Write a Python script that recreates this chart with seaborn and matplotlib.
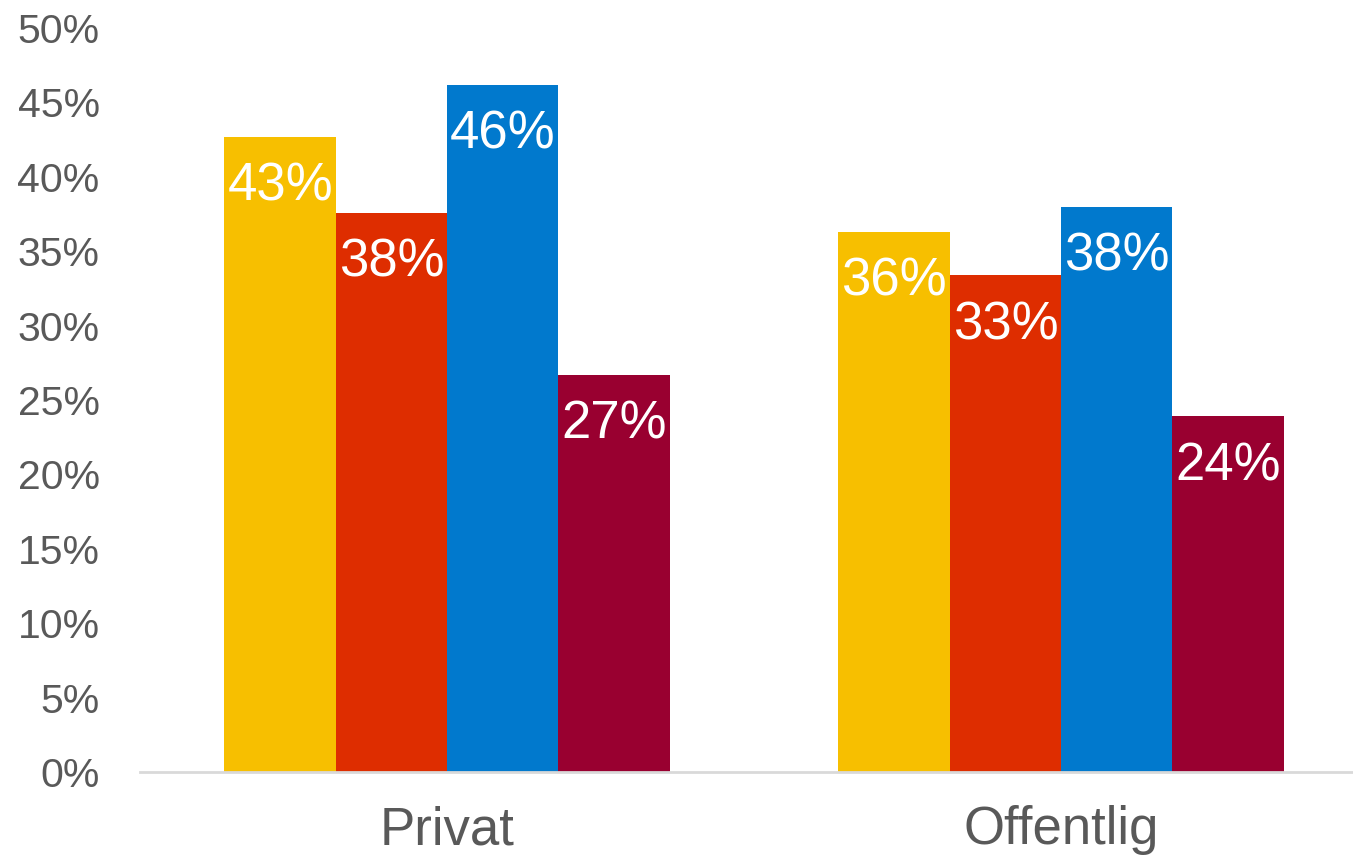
import pandas as pd
import numpy as np
import matplotlib.pyplot as plt
import seaborn as sns

# --- data (percent) ---
categories = ["Privat", "Offentlig"]
series = ["Serie 1", "Serie 2", "Serie 3", "Serie 4"]
serie1 = [42.7, 36.3]
serie2 = [37.6, 33.4]
serie3 = [46.2, 38.0]
serie4 = [26.7, 23.9]
colors = ["#F7BF00", "#DE2D00", "#0179CD", "#990030"]

rows = []
for s, vals in zip(series, [serie1, serie2, serie3, serie4]):
    for c, v in zip(categories, vals):
        rows.append({"Sektor": c, "Serie": s, "Andel": v})
df = pd.DataFrame(rows)

sns.set_style("white")
plt.rcParams['font.family'] = ['Liberation Sans', 'DejaVu Sans']

fig = plt.figure(figsize=(13.53, 8.63), dpi=100)
ax = fig.add_axes([140 / 1353, 91 / 863, 1228 / 1353, 744 / 863])

sns.barplot(data=df, x="Sektor", y="Andel", hue="Serie", palette=colors,
            width=0.725, gap=0, saturation=1, linewidth=0, legend=False, ax=ax)

# --- value labels inside the bars ---
for cont in ax.containers:
    for bar in cont:
        h = bar.get_height()
        ax.annotate(f"{h:.0f}%", xy=(bar.get_x() + bar.get_width() / 2, h),
                    xytext=(0, -64 * 0.72), textcoords="offset points",
                    ha="center", va="baseline", color="white", fontsize=38)

ax.set_xlim(-0.5, 1.5)
ax.set_ylim(0, 50)
ax.set_yticks(np.arange(0, 51, 5))
ax.set_yticklabels([f"{t}%" for t in range(0, 51, 5)])
ax.set_xlabel("")
ax.set_ylabel("")

for sp in ["top", "right", "left"]:
    ax.spines[sp].set_visible(False)
ax.spines["bottom"].set_color("#D9D9D9")
ax.spines["bottom"].set_linewidth(2)

ax.tick_params(axis="y", length=0, pad=29, labelsize=29.5, labelcolor="#595959")
ax.tick_params(axis="x", length=0, pad=24, labelsize=38, labelcolor="#595959")

fig.savefig("out.png", dpi=100)
